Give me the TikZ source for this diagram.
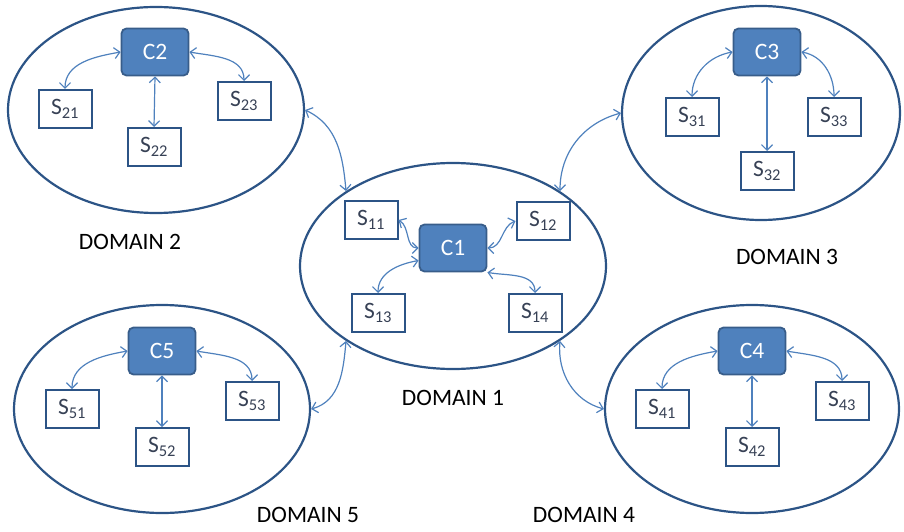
\documentclass[tikz,border=0pt]{standalone}
\usepackage{fontspec}
\setmainfont{Carlito}
\usepackage{tikz}
\usetikzlibrary{shapes.geometric,arrows.meta}

\definecolor{ringblue}{RGB}{44,84,134}
\definecolor{ctrlfill}{RGB}{79,129,189}
\definecolor{ctrlline}{RGB}{56,93,138}
\definecolor{linkblue}{RGB}{79,129,189}
\definecolor{srvtext}{RGB}{55,65,85}

\begin{document}
\begin{tikzpicture}[x=1pt, y=1pt,
  every node/.style={font=\fontsize{23.5}{28}\selectfont, inner sep=0pt},
  zone/.style={ellipse, draw=ringblue, line width=2.2pt},
  ctrl/.style={draw=ctrlline, fill=ctrlfill, line width=1.8pt, rounded corners=5pt,
    minimum width=67pt, minimum height=47pt, text=white},
  srv/.style={draw=ringblue, fill=white, line width=2pt,
    minimum width=53pt, minimum height=38pt, text=srvtext},
  link/.style={draw=linkblue, line width=1.2pt, {Straight Barb[length=5.5pt,width=11pt]}-{Straight Barb[length=5.5pt,width=11pt]}}]
  \useasboundingbox (0,0) rectangle (904,531);

  \node[zone, minimum width=306pt, minimum height=206pt] (dom1) at (453,265) {};
  \node[zone, minimum width=296pt, minimum height=206pt] (dom2) at (156,421) {};
  \node[zone, minimum width=278pt, minimum height=214pt] (dom3) at (761,418) {};
  \node[zone, minimum width=294pt, minimum height=208pt] (dom4) at (752,122) {};
  \node[zone, minimum width=296pt, minimum height=208pt] (dom5) at (162,122) {};

  \node (lab1) at (453,133) {DOMAIN 1};
  \node (lab2) at (130,289) {DOMAIN 2};
  \node (lab3) at (787,274) {DOMAIN 3};
  \node (lab4) at (584,16) {DOMAIN 4};
  \node (lab5) at (308,16) {DOMAIN 5};

  \node[ctrl] (c1) at (453,283) {C1};
  \node[srv] (s11) at (371,311) {S\textsubscript{11}};
  \node[srv] (s12) at (543,310) {S\textsubscript{12}};
  \node[srv] (s13) at (378,218) {S\textsubscript{13}};
  \node[srv] (s14) at (535,218) {S\textsubscript{14}};

  \node[ctrl] (c2) at (155,479) {C2};
  \node[srv] (s21) at (65,422) {S\textsubscript{21}};
  \node[srv] (s22) at (154,384) {S\textsubscript{22}};
  \node[srv] (s23) at (244,430) {S\textsubscript{23}};

  \node[ctrl] (c3) at (767,479) {C3};
  \node[srv] (s31) at (692,414) {S\textsubscript{31}};
  \node[srv] (s32) at (767,360) {S\textsubscript{32}};
  \node[srv] (s33) at (834,414) {S\textsubscript{33}};

  \node[ctrl] (c4) at (752,180) {C4};
  \node[srv] (s41) at (662,122) {S\textsubscript{41}};
  \node[srv] (s42) at (752,84) {S\textsubscript{42}};
  \node[srv] (s43) at (842,130) {S\textsubscript{43}};

  \node[ctrl] (c5) at (162,180) {C5};
  \node[srv] (s51) at (72,122) {S\textsubscript{51}};
  \node[srv] (s52) at (162,84) {S\textsubscript{52}};
  \node[srv] (s53) at (252,130) {S\textsubscript{53}};

  \draw[link] (s11.east) to[out=-30,in=180] (c1.west);
  \draw[link] (s12.west) to[out=200,in=0] (c1.east);
  \draw[link] (c1.200) to[out=190,in=90] (s13.north);
  \draw[link] (c1.south east) to[out=-10,in=90] (s14.north);

  \draw[link] (c2.west) to[out=190,in=90] (s21.north);
  \draw[link] (c2.south) -- (s22.north);
  \draw[link] (c2.east) to[out=-10,in=90] (s23.north);

  \draw[link] (c3.west) to[out=190,in=90] (s31.north);
  \draw[link] (c3.south) -- (s32.north);
  \draw[link] (c3.east) to[out=-10,in=90] (s33.north);

  \draw[link] (c4.west) to[out=190,in=90] (s41.north);
  \draw[link] (c4.south) -- (s42.north);
  \draw[link] (c4.east) to[out=-10,in=90] (s43.north);

  \draw[link] (c5.west) to[out=190,in=90] (s51.north);
  \draw[link] (c5.south) -- (s52.north);
  \draw[link] (c5.east) to[out=-10,in=90] (s53.north);

  \draw[link] (dom2.east) to[out=-25,in=95] (dom1.145);
  \draw[link] (dom1.35) to[out=90,in=195] (dom3.west);
  \draw[link] (dom1.215) to[out=-95,in=15] (dom5.east);
  \draw[link] (dom1.-35) to[out=-95,in=165] (dom4.west);
\end{tikzpicture}
\end{document}
